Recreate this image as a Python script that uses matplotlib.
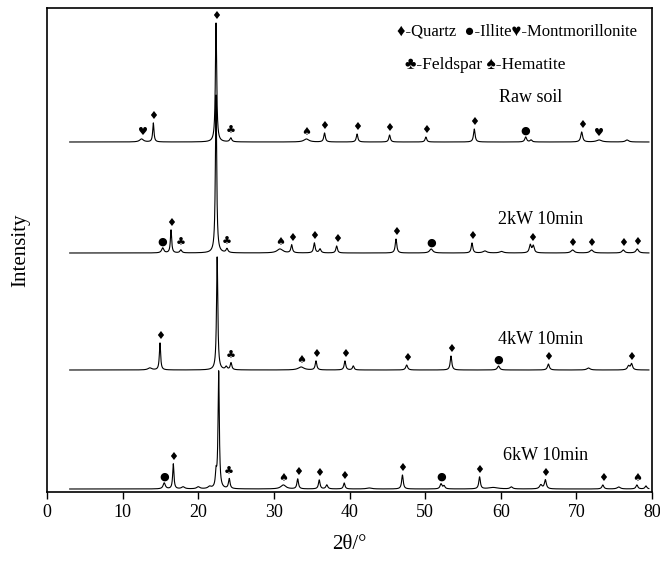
import numpy as np
import matplotlib

matplotlib.use("Agg")
import matplotlib.pyplot as plt

plt.rcParams["font.family"] = ["Liberation Serif", "DejaVu Sans"]

# peak lists: 2theta (deg), height (a.u.), FWHM (deg)
raw_pos = [12.5, 14.06, 22.35, 24.3, 34.3, 36.7, 41.0, 45.3, 50.1, 56.5, 63.3, 64.0, 70.7, 73.0, 76.7]
raw_h = [3, 19, 119, 4, 3, 9, 8, 7, 5, 13, 5, 2, 10, 2, 2]
raw_w = [0.6, 0.2, 0.2, 0.3, 0.8, 0.25, 0.25, 0.25, 0.25, 0.25, 0.3, 0.3, 0.3, 0.8, 0.5]

kw2_pos = [15.3, 16.4, 17.7, 22.35, 23.8, 30.8, 32.35, 35.35, 36.1, 38.3, 46.15, 50.8, 56.2, 57.9, 60.1,
           63.9, 64.3, 69.5, 72.0, 76.2, 78.05]
kw2_h = [5, 23, 3, 158, 4, 4, 8, 10, 4, 7, 14, 4, 10, 2, 1.5, 8, 7, 3, 3, 3, 4]
kw2_w = [0.35, 0.2, 0.3, 0.2, 0.3, 0.9, 0.25, 0.25, 0.3, 0.25, 0.25, 0.5, 0.25, 0.6, 0.6,
         0.3, 0.3, 0.5, 0.5, 0.4, 0.4]

kw4_pos = [13.6, 14.94, 22.5, 23.7, 24.33, 33.6, 35.57, 39.4, 40.5, 47.56, 53.42, 59.7, 66.3, 71.6, 76.9, 77.3]
kw4_h = [2, 27, 113, 3, 7, 3, 9, 9, 4, 5, 14, 4, 6, 2, 4, 6]
kw4_w = [0.6, 0.2, 0.2, 0.3, 0.25, 0.9, 0.25, 0.25, 0.25, 0.3, 0.25, 0.35, 0.3, 0.5, 0.35, 0.3]

kw6_pos = [15.5, 16.7, 18.0, 20.0, 21.5, 22.35, 22.7, 24.1, 31.25, 33.15, 36.0, 37.0, 39.3, 42.6, 47.0,
           52.1, 52.5, 57.2, 59.0, 61.4, 65.3, 65.9, 73.5, 75.6, 78.0, 79.2]
kw6_h = [6, 25, 2, 2, 2, 14, 117, 10, 4, 10, 9, 4, 6, 1, 14, 5, 3, 12, 1.5, 2, 4, 9, 4, 2, 4, 3]
kw6_w = [0.35, 0.2, 0.5, 0.5, 0.5, 0.2, 0.2, 0.25, 0.8, 0.25, 0.25, 0.3, 0.25, 0.8, 0.25,
         0.3, 0.3, 0.25, 1.5, 0.4, 0.4, 0.3, 0.3, 0.5, 0.3, 0.3]

# phase markers: 2theta, phase key
raw_marks = [(12.65, "M"), (14.06, "Q"), (22.35, "Q"), (24.3, "F"), (34.3, "H"), (36.7, "Q"), (41.0, "Q"),
             (45.3, "Q"), (50.1, "Q"), (56.5, "Q"), (63.3, "I"), (70.7, "Q"), (73.0, "M")]
kw2_marks = [(15.3, "I"), (16.4, "Q"), (17.7, "F"), (23.8, "F"), (30.8, "H"), (32.35, "Q"), (35.35, "Q"),
             (38.3, "Q"), (46.15, "Q"), (50.8, "I"), (56.2, "Q"), (64.1, "Q"), (69.5, "Q"), (72.0, "Q"),
             (76.2, "Q"), (78.05, "Q")]
kw4_marks = [(14.94, "Q"), (24.33, "F"), (33.6, "H"), (35.57, "Q"), (39.4, "Q"), (47.56, "Q"),
             (53.42, "Q"), (59.7, "I"), (66.3, "Q"), (77.3, "Q")]
kw6_marks = [(15.5, "I"), (16.7, "Q"), (24.1, "F"), (31.25, "H"), (33.15, "Q"), (36.0, "Q"), (39.3, "Q"),
             (47.0, "Q"), (52.1, "I"), (57.2, "Q"), (65.9, "Q"), (73.5, "Q"), (78.0, "H")]

labels = ["Raw soil", "2kW 10min", "4kW 10min", "6kW 10min"]
offsets = [350, 239, 122, 3]
symbols = {"Q": "\u2666", "I": "\u25cf", "M": "\u2665", "F": "\u2663", "H": "\u2660"}


def profile(x, pos, h, w):
    y = np.zeros_like(x)
    for p, a, fw in zip(pos, h, w):
        y += a / (1.0 + ((x - p) / (fw / 2.0)) ** 2)
    return y


x = np.arange(3.0, 79.6, 0.01)
patterns = [
    (raw_pos, raw_h, raw_w, raw_marks),
    (kw2_pos, kw2_h, kw2_w, kw2_marks),
    (kw4_pos, kw4_h, kw4_w, kw4_marks),
    (kw6_pos, kw6_h, kw6_w, kw6_marks),
]
label_x = [64.0, 65.2, 65.3, 65.9]
label_dy = [44, 33, 31, 34]

fig = plt.figure(figsize=(6.6, 5.63), dpi=100)
ax = fig.add_axes([47 / 660, 71 / 563, 605 / 660, 484 / 563])

for (pos, h, w, marks), off, label, lx, ly in zip(patterns, offsets, labels, label_x, label_dy):
    y = profile(x, pos, h, w) + off
    ax.plot(x, y, color="black", linewidth=0.8)
    for tt, key in marks:
        near = np.abs(x - tt) < 0.25
        ax.text(tt, y[near].max() + 6.5, symbols[key], ha="center", va="center",
                fontsize=8, family="DejaVu Sans", color="black")
    ax.text(lx, off + ly, label, ha="center", va="center", fontsize=13)

ax.text(350 / 605, 0.952, "\u2666-Quartz  \u25cf-Illite\u2665-Montmorillonite", transform=ax.transAxes,
        ha="left", va="center", fontsize=12)
ax.text(358 / 605, 0.882, "\u2663-Feldspar \u2660-Hematite", transform=ax.transAxes,
        ha="left", va="center", fontsize=12.5)

ax.set_xlim(0, 80)
ax.set_ylim(0, 484)
ax.set_xticks(range(0, 81, 10))
ax.set_yticks([])
ax.tick_params(axis="x", direction="out", length=5, width=1, labelsize=13)
for s in ax.spines.values():
    s.set_linewidth(1.2)
ax.set_xlabel("2\u03b8/\u00b0", fontsize=15, labelpad=10)
ax.set_ylabel("Intensity", fontsize=15, labelpad=12)

fig.savefig("out.png", dpi=100)
